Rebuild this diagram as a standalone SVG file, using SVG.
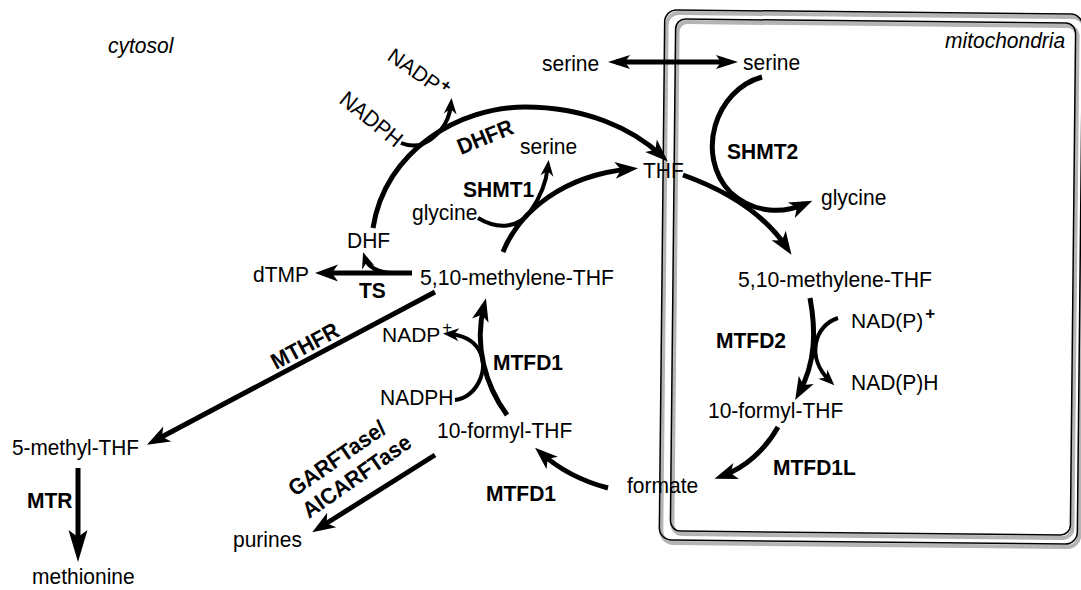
<svg xmlns="http://www.w3.org/2000/svg" width="1081" height="590" viewBox="0 0 1081 590">
<style>
.t{font-family:"Liberation Sans",Arial,sans-serif;font-size:22.5px;fill:#000}
.n{font-size:21px}
.b{font-weight:bold}
.i{font-style:italic}
.sup{font-size:17px}
.c{fill:none;stroke:#000;stroke-width:5}
.s{fill:none;stroke:#000;stroke-width:4}
.box{fill:none;stroke:#000;stroke-width:1.5}
.shadow{fill:none;stroke:#b4b4b4;stroke-width:4}
</style>
<defs>
<marker id="ah" markerUnits="userSpaceOnUse" orient="auto" overflow="visible" markerWidth="1" markerHeight="1"><path d="M8,0 L-15,-8.5 L-9,0 L-15,8.5 Z" fill="#000"/></marker>
<marker id="ahm" markerUnits="userSpaceOnUse" orient="auto-start-reverse" overflow="visible" markerWidth="1" markerHeight="1"><path d="M8,0 L-14,-7 L-9,0 L-14,7 Z" fill="#000"/></marker>
<marker id="ahs" markerUnits="userSpaceOnUse" orient="auto" overflow="visible" markerWidth="1" markerHeight="1"><path d="M6,0 L-10,-6.5 L-5,0 L-10,6.5 Z" fill="#000"/></marker>
<marker id="ahl" markerUnits="userSpaceOnUse" orient="auto" overflow="visible" markerWidth="1" markerHeight="1"><path d="M12,0 L-20,-9.5 L-13,0 L-20,9.5 Z" fill="#000"/></marker>
</defs>
<rect width="1081" height="590" fill="#fff"/>

<g id="mitochondria-box" transform="rotate(0.6 870 277)">
<rect class="shadow" x="664" y="15" width="418" height="530" rx="12"/>
<rect x="662" y="12" width="418" height="530" rx="12" fill="#fff" class="box"/>
<rect class="shadow" x="675" y="24" width="400" height="512" rx="10"/>
<rect x="673" y="21" width="400" height="512" rx="10" fill="#fff" class="box"/>
</g>

<g id="connectors">
<path class="c" d="M373,228 C385,150 460,107 525,107 C585,107 632,128 662,156" marker-end="url(#ah)"/>
<path class="s" d="M401,143 C418,150 430,142 440,131 C446,124 450,116 451,104" marker-end="url(#ahs)"/>
<path class="c" d="M503,252 C520,210 565,175 630,169" marker-end="url(#ah)"/>
<path class="s" d="M478,218 C498,230 518,228 530,212 C540,198 546,185 548,166" marker-end="url(#ahs)"/>
<path class="c" d="M616,62 L730,62" marker-start="url(#ahm)" marker-end="url(#ahm)"/>
<path class="c" d="M412,273 L323,273" marker-end="url(#ah)"/>
<path class="s" d="M394,273 C378,273 368,267 365,258" marker-end="url(#ahs)"/>
<path class="c" d="M435,292 L154,441" marker-end="url(#ah)"/>
<path class="c" d="M78,468 L78,550" marker-end="url(#ahl)"/>
<path class="c" d="M435,455 L319,528" marker-end="url(#ah)"/>
<path class="c" d="M608,488 C585,482 560,470 541,453" marker-end="url(#ah)"/>
<path class="c" d="M507,415 C485,385 474,345 484,306" marker-end="url(#ah)"/>
<path class="s" d="M455,400 C476,398 490,370 479,350 C473,340 463,335 449,334" marker-end="url(#ahs)"/>
<path class="c" d="M762,77 C715,90 695,155 730,192 C755,215 785,213 805,204" marker-end="url(#ah)"/>
<path class="c" d="M683,175 C725,190 763,212 787,248" marker-end="url(#ah)"/>
<path class="c" d="M810,298 C816,330 816,362 799,393" marker-end="url(#ah)"/>
<path class="s" d="M838,318 C815,325 805,357 830,381" marker-end="url(#ahs)"/>
<path class="c" d="M778,427 C765,450 745,468 722,476" marker-end="url(#ah)"/>
</g>

<g id="labels-compartments">
<text class="t i" x="108" y="53" textLength="65.4" lengthAdjust="spacingAndGlyphs">cytosol</text>
<text class="t i" x="945" y="48" textLength="120.2" lengthAdjust="spacingAndGlyphs">mitochondria</text>
</g>

<g id="node-serine-cyt"><text class="t" x="542" y="71" textLength="57.2" lengthAdjust="spacingAndGlyphs">serine</text></g>
<g id="node-serine-mito"><text class="t" x="743" y="70" textLength="57.2" lengthAdjust="spacingAndGlyphs">serine</text></g>
<g id="node-nadp-dhfr"><text class="t n" transform="translate(386,59) rotate(35)">NADP<tspan class="sup b" dx="1" dy="-7">+</tspan></text></g>
<g id="node-nadph-dhfr"><text class="t" transform="translate(338,102) rotate(39)" textLength="73.5" lengthAdjust="spacingAndGlyphs">NADPH</text></g>
<g id="enzyme-dhfr"><text class="t b" transform="translate(461,155) rotate(-22)" textLength="58.3" lengthAdjust="spacingAndGlyphs">DHFR</text></g>
<g id="node-serine-shmt1"><text class="t" x="520" y="154" textLength="57.2" lengthAdjust="spacingAndGlyphs">serine</text></g>
<g id="enzyme-shmt1"><text class="t b" x="463" y="197" textLength="71.2" lengthAdjust="spacingAndGlyphs">SHMT1</text></g>
<g id="node-glycine-cyt"><text class="t" x="412" y="220" textLength="65.4" lengthAdjust="spacingAndGlyphs">glycine</text></g>
<g id="node-thf"><text class="t" x="643" y="178" textLength="40.8" lengthAdjust="spacingAndGlyphs">THF</text></g>
<g id="node-dhf"><text class="t" x="347" y="248" textLength="43.2" lengthAdjust="spacingAndGlyphs">DHF</text></g>
<g id="node-dtmp"><text class="t" x="253" y="282" textLength="56" lengthAdjust="spacingAndGlyphs">dTMP</text></g>
<g id="enzyme-ts"><text class="t b" x="359" y="298" textLength="26.8" lengthAdjust="spacingAndGlyphs">TS</text></g>
<g id="node-methylene-thf-cyt"><text class="t" x="420" y="285" textLength="194" lengthAdjust="spacingAndGlyphs">5,10-methylene-THF</text></g>
<g id="enzyme-mthfr"><text class="t b" transform="translate(276,370) rotate(-28)" textLength="73.5" lengthAdjust="spacingAndGlyphs">MTHFR</text></g>
<g id="node-nadp-mtfd1"><text class="t n" x="382" y="342">NADP<tspan class="sup" dx="2" dy="-9">+</tspan></text></g>
<g id="node-nadph-mtfd1"><text class="t" x="380" y="405" textLength="73.5" lengthAdjust="spacingAndGlyphs">NADPH</text></g>
<g id="enzyme-mtfd1-a"><text class="t b" x="493" y="370" textLength="70" lengthAdjust="spacingAndGlyphs">MTFD1</text></g>
<g id="node-formyl-thf-cyt"><text class="t" x="437" y="438" textLength="135.3" lengthAdjust="spacingAndGlyphs">10-formyl-THF</text></g>
<g id="enzyme-mtfd1-b"><text class="t b" x="486" y="501" textLength="70" lengthAdjust="spacingAndGlyphs">MTFD1</text></g>
<g id="node-formate"><text class="t" x="627" y="493" textLength="71.2" lengthAdjust="spacingAndGlyphs">formate</text></g>
<g id="node-5-methyl-thf"><text class="t" x="12" y="455" textLength="127" lengthAdjust="spacingAndGlyphs">5-methyl-THF</text></g>
<g id="enzyme-mtr"><text class="t b" x="27" y="508" textLength="45.5" lengthAdjust="spacingAndGlyphs">MTR</text></g>
<g id="node-methionine"><text class="t" x="32" y="584" textLength="102.7" lengthAdjust="spacingAndGlyphs">methionine</text></g>
<g id="node-purines"><text class="t" x="233" y="547" textLength="68.9" lengthAdjust="spacingAndGlyphs">purines</text></g>
<g id="enzyme-garftase">
<text class="t b" transform="translate(295,497) rotate(-35)" textLength="113.2" lengthAdjust="spacingAndGlyphs">GARFTase/</text>
<text class="t b" transform="translate(309,519) rotate(-35)" textLength="127.2" lengthAdjust="spacingAndGlyphs">AICARFTase</text>
</g>
<g id="enzyme-shmt2"><text class="t b" x="727" y="159" textLength="71.2" lengthAdjust="spacingAndGlyphs">SHMT2</text></g>
<g id="node-glycine-mito"><text class="t" x="821" y="205" textLength="65.4" lengthAdjust="spacingAndGlyphs">glycine</text></g>
<g id="node-methylene-thf-mito"><text class="t" x="738" y="287" textLength="194" lengthAdjust="spacingAndGlyphs">5,10-methylene-THF</text></g>
<g id="node-nadp-plus-mito"><text class="t n" x="851" y="328">NAD(P)<tspan class="sup b" dx="2" dy="-9">+</tspan></text></g>
<g id="node-nadph-mito"><text class="t" x="851" y="390" textLength="87.5" lengthAdjust="spacingAndGlyphs">NAD(P)H</text></g>
<g id="enzyme-mtfd2"><text class="t b" x="716" y="348" textLength="70" lengthAdjust="spacingAndGlyphs">MTFD2</text></g>
<g id="node-formyl-thf-mito"><text class="t" x="708" y="418" textLength="135.3" lengthAdjust="spacingAndGlyphs">10-formyl-THF</text></g>
<g id="enzyme-mtfd1l"><text class="t b" x="773" y="475" textLength="82.8" lengthAdjust="spacingAndGlyphs">MTFD1L</text></g>
</svg>
